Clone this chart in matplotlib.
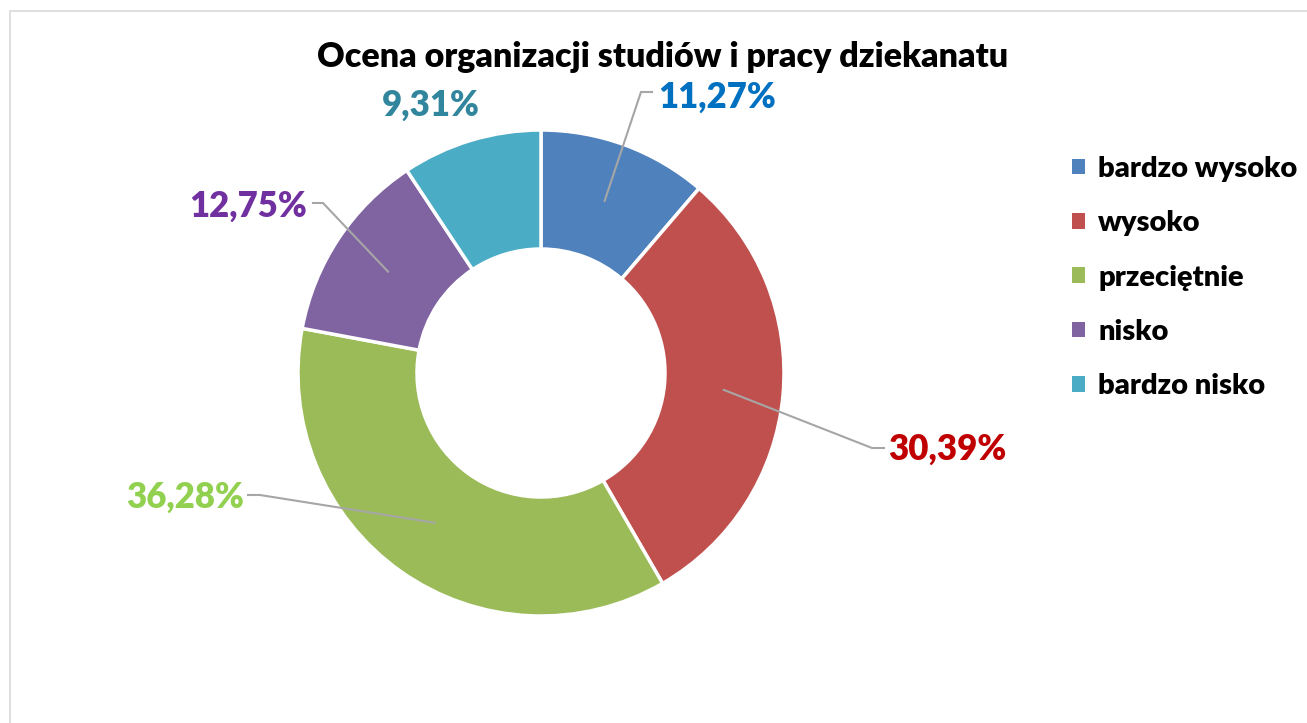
import numpy as np
import matplotlib
matplotlib.use("Agg")
from matplotlib import pyplot as plt
from matplotlib.patches import Rectangle

plt.rcParams['font.family'] = ['Lato', 'DejaVu Sans']
plt.rcParams['font.weight'] = 'heavy'

categories = ["bardzo wysoko", "wysoko", "przeciętnie", "nisko", "bardzo nisko"]
values = [11.27, 30.39, 36.28, 12.75, 9.31]
labels = ["11,27%", "30,39%", "36,28%", "12,75%", "9,31%"]
colors = ["#4F81BD", "#C0504D", "#9BBB59", "#8064A2", "#4BACC6"]
label_colors = ["#0070C0", "#C00000", "#92D050", "#7030A0", "#31859C"]

W, H = 1307, 723
fig = plt.figure(figsize=(W / 100, H / 100), dpi=100)
ax = fig.add_axes([0, 0, 1, 1])

# chart frame
ax.add_patch(Rectangle((10, -5), W, H - 11 + 5, fill=False, edgecolor='#D9D9D9', lw=1.2))

cx, cy = 541, H - 373
r_out, r_in = 243, 124
wedges, _ = ax.pie(values, colors=colors, startangle=90, counterclock=False,
                   center=(cx, cy), radius=r_out, frame=True,
                   wedgeprops=dict(width=r_out - r_in, edgecolor='white', linewidth=2.5))
ax.set_xlim(0, W)
ax.set_ylim(0, H)
ax.set_aspect('equal')
ax.axis('off')

# label positions (pixel layout) and leader elbows
label_pos = [(717, 97), (947, 449), (185, 497), (248, 206), (431, 105)]
elbows = [((641, 92), (652, 92)), ((872, 448), (884, 448)), ((260, 495), (248, 495)),
          ((323, 203), (313, 203)), None]

r_mid = (r_out + r_in) / 2
cum = np.cumsum([0] + values[:-1])
for i, v in enumerate(values):
    ang = np.deg2rad(90 - (cum[i] + v / 2) * 3.6)
    px, py = cx + r_mid * np.cos(ang), cy + r_mid * np.sin(ang)
    if elbows[i] is not None:
        (ex, ey), (fx, fy) = elbows[i]
        ax.plot([px, ex, fx], [py, H - ey, H - fy], color='#A6A6A6', lw=1.5,
                solid_joinstyle='miter')
    lx, ly = label_pos[i]
    ax.text(lx, H - ly, labels[i], color=label_colors[i], fontsize=25,
            fontweight='heavy', ha='center', va='center')

ax.text(663, H - 57, "Ocena organizacji studiów i pracy dziekanatu", fontsize=24.5,
        fontweight='heavy', ha='center', va='center', color='black')

leg = ax.legend(wedges, categories, loc='upper left', bbox_to_anchor=(1072 / W, 1 - 156 / H),
                frameon=False, fontsize=21, handlelength=0.45, handleheight=0.45,
                handletextpad=0.45, labelspacing=0.97, borderaxespad=0, borderpad=0)
for t in leg.get_texts():
    t.set_fontweight('heavy')
for h in leg.legend_handles:
    h.set_edgecolor('none')

fig.savefig("out.png", dpi=100)
